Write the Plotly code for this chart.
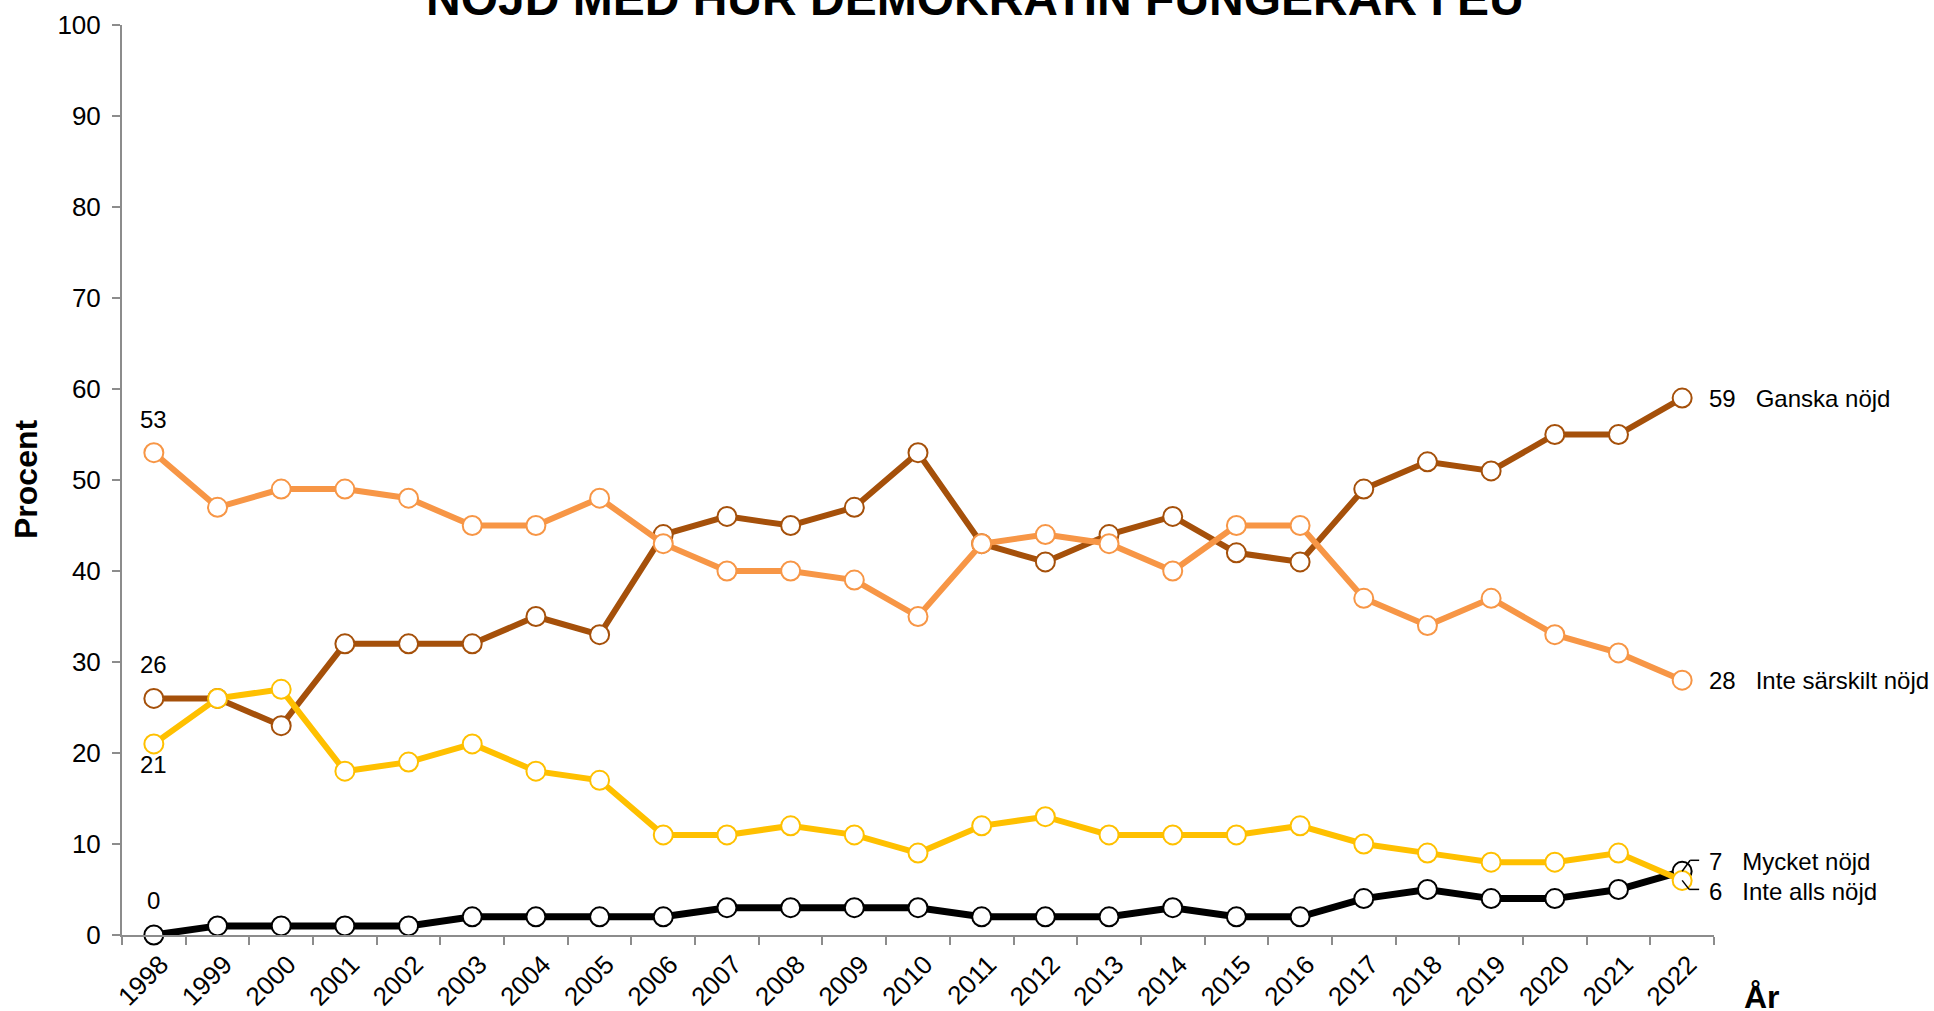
import plotly.graph_objects as go

years = ["1998", "1999", "2000", "2001", "2002", "2003", "2004", "2005", "2006",
         "2007", "2008", "2009", "2010", "2011", "2012", "2013", "2014", "2015",
         "2016", "2017", "2018", "2019", "2020", "2021", "2022"]

mycket_nojd = [0, 1, 1, 1, 1, 2, 2, 2, 2, 3, 3, 3, 3, 2, 2, 2, 3, 2, 2, 4, 5, 4, 4, 5, 7]
ganska_nojd = [26, 26, 23, 32, 32, 32, 35, 33, 44, 46, 45, 47, 53, 43, 41, 44, 46, 42, 41, 49, 52, 51, 55, 55, 59]
inte_sarskilt_nojd = [53, 47, 49, 49, 48, 45, 45, 48, 43, 40, 40, 39, 35, 43, 44, 43, 40, 45, 45, 37, 34, 37, 33, 31, 28]
inte_alls_nojd = [21, 26, 27, 18, 19, 21, 18, 17, 11, 11, 12, 11, 9, 12, 13, 11, 11, 11, 12, 10, 9, 8, 8, 9, 6]

series_names = ["Mycket nöjd", "Ganska nöjd", "Inte särskilt nöjd", "Inte alls nöjd"]
series_values = [mycket_nojd, ganska_nojd, inte_sarskilt_nojd, inte_alls_nojd]
series_colors = ["#000000", "#A5500A", "#F79646", "#FFC000"]
line_widths = [7, 6, 6, 6]

FONT = "Liberation Sans, Arial, sans-serif"

fig = go.Figure()
for name, vals, col, lw in zip(series_names, series_values, series_colors, line_widths):
    fig.add_trace(go.Scatter(
        x=years, y=vals, name=name, mode="lines+markers",
        line=dict(color=col, width=lw),
        marker=dict(symbol="circle", size=19, color="white",
                    line=dict(color=col, width=2)),
        showlegend=False, cliponaxis=False, hoverinfo="skip",
    ))

first_idx = 0
last_idx = len(years) - 1

annotations = []
# left start labels (value of first year)
left_offsets = {"Mycket nöjd": 35, "Ganska nöjd": 34, "Inte särskilt nöjd": 33, "Inte alls nöjd": -21}
for name, vals in zip(series_names, series_values):
    annotations.append(dict(x=first_idx, y=vals[0], xref="x", yref="y", text=str(vals[0]),
                            showarrow=False, yshift=left_offsets[name],
                            font=dict(family=FONT, size=24, color="black")))

# right end labels
right_offsets = {"Mycket nöjd": 10, "Ganska nöjd": 0, "Inte särskilt nöjd": 0, "Inte alls nöjd": -11}
for name, vals in zip(series_names, series_values):
    annotations.append(dict(x=last_idx, y=vals[-1], xref="x", yref="y",
                            text=f"{vals[-1]}&nbsp;&nbsp;&nbsp;{name}",
                            showarrow=False, xanchor="left", xshift=25,
                            yshift=right_offsets[name],
                            font=dict(family=FONT, size=24, color="black")))

# title (partly cut off at the top, as in the reference)
annotations.append(dict(x=(975 - 122) / 1592, y=1, xref="paper", yref="paper",
                        text="<b>NÖJD MED HUR DEMOKRATIN FUNGERAR I EU</b>",
                        showarrow=False, xanchor="center", yanchor="middle", yshift=27,
                        font=dict(family=FONT, size=48, color="black")))
# axis titles
annotations.append(dict(x=(26 - 122) / 1592, y=0.5, xref="paper", yref="paper",
                        text="<b>Procent</b>", textangle=-90, showarrow=False,
                        xanchor="center", yanchor="middle",
                        font=dict(family=FONT, size=32, color="black")))
annotations.append(dict(x=(1762 - 122) / 1592, y=(935 - 997) / 911, xref="paper", yref="paper",
                        text="<b>År</b>", showarrow=False,
                        xanchor="center", yanchor="middle",
                        font=dict(family=FONT, size=32, color="black")))

# leader lines for the two overlapping end labels
shapes = []
leader = {"Mycket nöjd": [(0, 0), (8, 11), (17, 11)],
          "Inte alls nöjd": [(0, 0), (7, -9), (17, -9)]}
for name, pts in leader.items():
    vals = series_values[series_names.index(name)]
    for (ax0, ay0), (ax1, ay1) in zip(pts[:-1], pts[1:]):
        shapes.append(dict(type="line", xref="x", yref="y",
                           xsizemode="pixel", ysizemode="pixel",
                           xanchor=last_idx, yanchor=vals[-1],
                           x0=ax0, y0=ay0, x1=ax1, y1=ay1,
                           line=dict(color="black", width=1.5), layer="above"))

axis_color = "#8C8C8C"
fig.update_layout(
    width=1934, height=1011,
    margin=dict(l=122, r=220, t=25, b=76),
    paper_bgcolor="white", plot_bgcolor="white",
    font=dict(family=FONT, color="black"),
    annotations=annotations, shapes=shapes,
    xaxis=dict(type="category", range=[-0.5, 24.5], tickson="boundaries",
               ticks="outside", ticklen=8, tickwidth=2, tickcolor=axis_color,
               showline=True, linecolor=axis_color, linewidth=2, automargin=False,
               showgrid=False, zeroline=False, tickangle=-45,
               ticklabelshift=7, ticklabelstandoff=2,
               tickfont=dict(family=FONT, size=26, color="black")),
    yaxis=dict(range=[0, 100], dtick=10, ticks="outside", ticklen=8, tickwidth=2,
               tickcolor=axis_color, showline=True, linecolor=axis_color, linewidth=2,
               showgrid=False, zeroline=False, ticklabelstandoff=6, automargin=False,
               tickfont=dict(family=FONT, size=26, color="black")),
)

fig.write_html("out.html", config={"displayModeBar": False},
               post_script="document.body.style.margin='0';document.body.style.overflow='hidden';")
